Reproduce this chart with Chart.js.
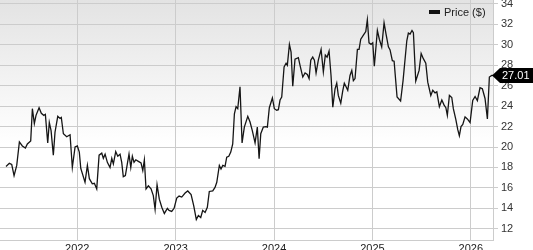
<!DOCTYPE html>
<html>
<head>
<meta charset="utf-8">
<script src="https://cdn.jsdelivr.net/npm/chart.js@4.4.0/dist/chart.umd.min.js"></script>
<style>
  html, body { margin: 0; padding: 0; background: #ffffff; }
  #wrap { width: 533px; height: 250px; }
</style>
</head>
<body>
<div id="wrap"><canvas id="chart" width="533" height="250"></canvas></div>
<script>
// dates as decimal years
const years = [
  2021.276, 2021.310, 2021.334, 2021.358, 2021.385, 2021.412, 2021.442, 2021.473, 2021.493, 2021.527,
  2021.544, 2021.564, 2021.581, 2021.612, 2021.635, 2021.660, 2021.676, 2021.700, 2021.716, 2021.734,
  2021.757, 2021.774, 2021.802, 2021.825, 2021.838, 2021.859, 2021.893, 2021.927, 2021.950, 2021.978,
  2022.001, 2022.021, 2022.036, 2022.079, 2022.103, 2022.123, 2022.153, 2022.174, 2022.198, 2022.222,
  2022.249, 2022.265, 2022.283, 2022.306, 2022.333, 2022.351, 2022.367, 2022.391, 2022.412, 2022.435,
  2022.452, 2022.468, 2022.489, 2022.509, 2022.526, 2022.544, 2022.560, 2022.577, 2022.595, 2022.621,
  2022.648, 2022.666, 2022.682, 2022.699, 2022.723, 2022.750, 2022.773, 2022.791, 2022.811, 2022.834,
  2022.859, 2022.885, 2022.916, 2022.933, 2022.960, 2022.984, 2023.011, 2023.035, 2023.062, 2023.096,
  2023.123, 2023.157, 2023.184, 2023.210, 2023.231, 2023.255, 2023.275, 2023.299, 2023.322, 2023.342,
  2023.377, 2023.400, 2023.418, 2023.444, 2023.461, 2023.479, 2023.502, 2023.519, 2023.540, 2023.560,
  2023.580, 2023.597, 2023.614, 2023.631, 2023.654, 2023.675, 2023.698, 2023.733, 2023.756, 2023.779,
  2023.807, 2023.830, 2023.848, 2023.865, 2023.891, 2023.916, 2023.932, 2023.952, 2023.983, 2024.003,
  2024.027, 2024.044, 2024.061, 2024.078, 2024.102, 2024.122, 2024.135, 2024.156, 2024.173, 2024.190,
  2024.213, 2024.247, 2024.264, 2024.292, 2024.315, 2024.338, 2024.356, 2024.373, 2024.393, 2024.410,
  2024.427, 2024.450, 2024.478, 2024.501, 2024.521, 2024.539, 2024.559, 2024.579, 2024.597, 2024.620,
  2024.637, 2024.653, 2024.678, 2024.698, 2024.714, 2024.732, 2024.749, 2024.772, 2024.790, 2024.806,
  2024.823, 2024.847, 2024.864, 2024.881, 2024.908, 2024.932, 2024.948, 2024.965, 2024.986, 2025.003,
  2025.019, 2025.050, 2025.070, 2025.094, 2025.118, 2025.138, 2025.162, 2025.179, 2025.202, 2025.220,
  2025.250, 2025.286, 2025.311, 2025.349, 2025.365, 2025.382, 2025.402, 2025.416, 2025.440, 2025.474,
  2025.495, 2025.517, 2025.542, 2025.562, 2025.593, 2025.613, 2025.636, 2025.654, 2025.680, 2025.705,
  2025.728, 2025.746, 2025.761, 2025.782, 2025.806, 2025.822, 2025.847, 2025.867, 2025.883, 2025.900,
  2025.918, 2025.941, 2025.964, 2025.992, 2026.019, 2026.043, 2026.066, 2026.093, 2026.117, 2026.144,
  2026.168, 2026.188, 2026.212, 2026.225
];

const prices = [
  18.1, 18.4, 18.3, 17.2, 18.2, 20.5, 20.1, 19.9, 20.3, 20.6,
  23.75, 22.3, 23.1, 23.85, 23.3, 23.1, 23.2, 20.4, 22.4, 21.6,
  19.2, 21.45, 23.0, 22.8, 22.9, 21.3, 21.0, 21.2, 18.0, 20.0,
  20.1, 19.5, 17.9, 16.55, 18.2, 16.9, 16.4, 16.45, 15.9, 19.2,
  19.4, 18.9, 19.3, 18.5, 18.0, 18.9, 18.35, 19.55, 19.1, 19.3,
  18.5, 17.1, 17.2, 18.35, 19.3, 18.0, 19.1, 18.5, 18.75, 18.6,
  18.45, 17.7, 18.75, 15.9, 16.2, 15.9, 15.25, 13.9, 16.3, 14.9,
  14.1, 13.5, 14.0, 13.8, 13.7, 14.0, 15.0, 15.2, 15.1, 15.5,
  15.7, 15.35, 14.25, 12.9, 13.3, 13.1, 13.8, 13.6, 14.1, 15.65,
  15.7, 16.05, 16.55, 18.2, 17.85, 18.2, 18.1, 19.0, 19.1, 19.5,
  20.3, 23.25, 23.95, 23.75, 25.9, 20.4, 21.95, 23.0, 22.45, 21.6,
  20.4, 21.95, 18.85, 21.3, 21.95, 22.0, 21.95, 23.85, 24.8, 23.75,
  23.6, 23.65, 24.6, 24.9, 27.85, 28.2, 28.0, 30.05, 29.3, 25.95,
  28.6, 28.75, 28.0, 26.85, 27.25, 27.1, 26.7, 28.5, 28.8, 28.5,
  27.25, 28.5, 29.55, 27.35, 29.0, 28.8, 29.4, 27.0, 23.9, 25.7,
  26.25, 25.05, 24.3, 25.5, 26.25, 25.9, 25.55, 27.0, 27.5, 26.5,
  26.7, 29.55, 29.55, 30.55, 30.95, 31.3, 32.45, 30.2, 30.05, 30.2,
  27.9, 31.4, 30.55, 29.8, 32.15, 31.05, 29.8, 29.5, 28.45, 28.4,
  24.9, 24.5, 26.5, 30.4, 31.15, 31.05, 31.4, 31.2, 26.45, 27.5,
  29.15, 28.65, 28.2, 26.35, 25.05, 25.55, 25.3, 25.4, 23.95, 24.6,
  24.1, 23.85, 23.1, 25.05, 24.85, 23.75, 22.7, 21.7, 21.1, 22.0,
  22.2, 22.95, 22.75, 22.4, 24.55, 24.95, 24.55, 25.8, 25.7, 24.75,
  22.75, 26.85, 27.0, 27.01
];

const xTickYears = [2022, 2023, 2024, 2025, 2026];
const yTickValues = [12, 14, 16, 18, 20, 22, 24, 26, 28, 30, 32, 34];
const seriesLabel = "Price ($)";

// visible range of the axes
const xStart = 2021.215;
const xEnd = 2026.225;
const yMin = 10.9;
const yMax = 34.39;

Chart.defaults.font.family = "'Liberation Sans', Arial, sans-serif";
Chart.defaults.font.size = 11;

// no extra room for label overflow, the plot goes right to the edges
function noOverflow(scale) {
  scale.paddingTop = 0;
  scale.paddingBottom = 0;
  scale.paddingLeft = 0;
  scale.paddingRight = 0;
}

// grey-to-white background behind the plot
const plotBackground = {
  id: "plot-background",
  beforeDraw(chart) {
    const { ctx, chartArea } = chart;
    const g = ctx.createLinearGradient(0, chartArea.top, 0, chartArea.bottom);
    g.addColorStop(0, "#e3e3e3");
    g.addColorStop(0.6, "#ffffff");
    ctx.save();
    ctx.fillStyle = g;
    ctx.fillRect(chartArea.left, chartArea.top, chartArea.right - chartArea.left, chartArea.bottom - chartArea.top);
    ctx.restore();
  },
};

// legend in the top right corner, inside the plot
const insideLegend = {
  id: "inside-legend",
  afterDraw(chart) {
    const { ctx } = chart;
    ctx.save();
    ctx.fillStyle = "#111111";
    ctx.fillRect(429, 10, 11, 4);
    ctx.fillStyle = "#222222";
    ctx.font = "11px 'Liberation Sans', Arial, sans-serif";
    ctx.textAlign = "left";
    ctx.textBaseline = "middle";
    ctx.fillText(chart.data.datasets[0].label, 444, 12.5);
    ctx.restore();
  },
};

// black arrow label with the last price
const lastPriceTag = {
  id: "last-price-tag",
  afterDatasetsDraw(chart) {
    const { ctx, chartArea } = chart;
    const meta = chart.getDatasetMeta(0);
    const last = meta.data[meta.data.length - 1];
    const value = prices[prices.length - 1];
    const x = chartArea.right - 1;
    const y = last.y;
    ctx.save();
    ctx.fillStyle = "#000000";
    ctx.beginPath();
    ctx.moveTo(x, y);
    ctx.lineTo(x + 8, y - 7.5);
    ctx.lineTo(chart.width, y - 7.5);
    ctx.lineTo(chart.width, y + 7.5);
    ctx.lineTo(x + 8, y + 7.5);
    ctx.closePath();
    ctx.fill();
    ctx.fillStyle = "#ffffff";
    ctx.font = "11px 'Liberation Sans', Arial, sans-serif";
    ctx.textAlign = "left";
    ctx.textBaseline = "middle";
    ctx.fillText(value.toFixed(2), x + 10, y + 0.5);
    ctx.restore();
  },
};

new Chart(document.getElementById("chart"), {
  type: "line",
  data: {
    datasets: [
      {
        label: seriesLabel,
        data: years.map((t, i) => ({ x: t, y: prices[i] })),
        borderColor: "#151515",
        borderWidth: 1.3,
        pointRadius: 0,
        tension: 0,
        fill: false,
      },
    ],
  },
  options: {
    responsive: false,
    animation: false,
    devicePixelRatio: 1,
    layout: { padding: 0 },
    plugins: {
      legend: { display: false },
      tooltip: { enabled: false },
    },
    scales: {
      x: {
        type: "linear",
        position: "bottom",
        min: xStart,
        max: xEnd,
        grid: { color: "#cccccc", drawTicks: false, tickLength: 0 },
        border: { color: "#cccccc" },
        ticks: {
          color: "#222222",
          padding: 2,
          autoSkip: false,
          maxRotation: 0,
          callback: (value) => String(value),
        },
        afterBuildTicks: (scale) => {
          scale.ticks = xTickYears.map((v) => ({ value: v }));
        },
        afterFit: (scale) => {
          scale.height = 10;
          noOverflow(scale);
        },
      },
      y: {
        position: "right",
        min: yMin,
        max: yMax,
        grid: { color: "#cccccc", tickLength: 5 },
        border: { color: "#cccccc" },
        ticks: {
          color: "#333333",
          padding: 3,
          callback: (value) => String(value),
        },
        afterBuildTicks: (scale) => {
          scale.ticks = yTickValues.map((v) => ({ value: v }));
        },
        afterFit: (scale) => {
          scale.width = 40;
          noOverflow(scale);
        },
      },
    },
  },
  plugins: [plotBackground, insideLegend, lastPriceTag],
});
</script>
</body>
</html>
